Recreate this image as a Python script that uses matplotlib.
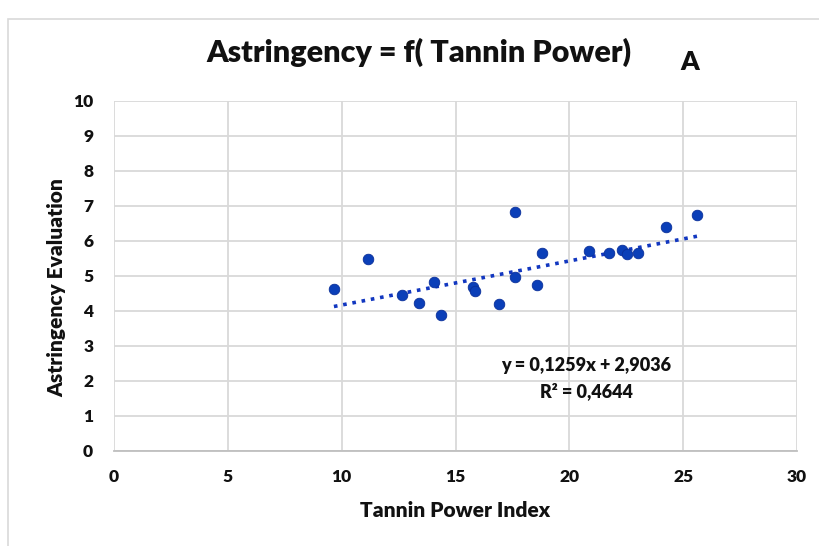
import matplotlib
matplotlib.use("Agg")
import matplotlib.pyplot as plt
from matplotlib.patches import Rectangle
import numpy as np

# Tannin Power Index vs astringency score for each sample
tannin_power = [9.66, 11.14, 12.66, 13.40, 14.07, 14.35, 15.78, 15.86, 16.93,
                17.61, 17.61, 18.59, 18.79, 20.88, 21.74, 22.33, 22.55, 23.00,
                24.25, 25.61]
astringency = [4.61, 5.48, 4.44, 4.21, 4.83, 3.87, 4.69, 4.57, 4.18,
               6.81, 4.95, 4.74, 5.66, 5.71, 5.66, 5.73, 5.62, 5.66,
               6.39, 6.73]

# Linear trend reported on the chart
slope = 0.1259
intercept = 2.9036
r_squared = 0.4644

x_ticks = [0, 5, 10, 15, 20, 25, 30]
y_ticks = list(range(0, 11))

FONT = "Lato"
WEIGHT = "heavy"
plt.rcParams["font.family"] = [FONT, "DejaVu Sans"]

fig = plt.figure(figsize=(8.19, 5.46), dpi=100)
fig.patches.append(Rectangle((8 / 819, -0.05), 1.2, 1 - 19 / 546 + 0.05,
                             transform=fig.transFigure, fill=False,
                             edgecolor="#d9d9d9", linewidth=1.2))

ax = fig.add_axes([114 / 819, 1 - 450.7 / 546, (797 - 114) / 819, 350 / 546])
ax.set_xlim(0, 30)
ax.set_ylim(0, 10)
ax.set_xticks(x_ticks)
ax.set_yticks(y_ticks)
ax.grid(True, color="#d9d9d9", linewidth=1.3)
ax.set_axisbelow(True)
for side in ["top", "right", "left"]:
    ax.spines[side].set_visible(False)
ax.spines["bottom"].set_color("#bfbfbf")
ax.spines["bottom"].set_linewidth(1.3)
ax.tick_params(length=0, pad=13, labelsize=12.5, labelcolor="#111111")
ax.tick_params(axis="y", pad=15)
for lab in ax.get_xticklabels() + ax.get_yticklabels():
    lab.set_fontweight(WEIGHT)

ax.scatter(tannin_power, astringency, s=58, color="#0b3fb8",
           edgecolors="#0a2f9a", linewidths=0.6, zorder=3)

xs = np.array([min(tannin_power), max(tannin_power)])
ax.plot(xs, slope * xs + intercept, linestyle=(0, (1, 1.6)),
        color="#1237c0", linewidth=2.6, zorder=2)

eq = f"y = {slope:.4f}x + {intercept:.4f}".replace(".", ",")
r2 = f"R² = {r_squared:.4f}".replace(".", ",")
ax.text(20.75, 2.42, eq, ha="center", va="center", fontsize=13,
        fontweight=WEIGHT, color="#111111")
ax.text(20.75, 1.70, r2, ha="center", va="center", fontsize=13,
        fontweight=WEIGHT, color="#111111")

ax.set_xlabel("Tannin Power Index", fontsize=15, fontweight=WEIGHT,
              labelpad=12, color="#111111")
ax.set_ylabel("Astringency Evaluation", fontsize=15, fontweight=WEIGHT,
              labelpad=5, color="#111111")
ax.yaxis.set_label_coords(-0.07, 0.465)

fig.text(419 / 819, 1 - 52 / 546, "Astringency = f( Tannin Power)",
         ha="center", va="center", fontsize=22, fontweight=WEIGHT,
         color="#111111")
fig.text(690 / 819, 1 - 62 / 546, "A", ha="center", va="center",
         fontsize=19, fontweight=WEIGHT, color="#111111")

fig.savefig("out.png", dpi=100)
